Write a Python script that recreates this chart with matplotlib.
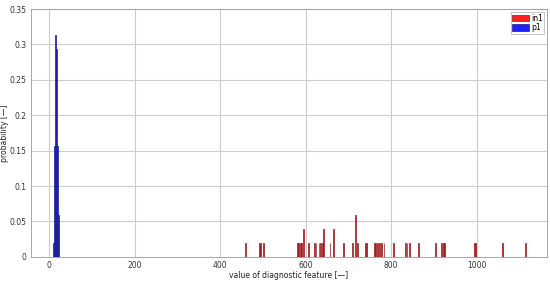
import matplotlib
matplotlib.use("Agg")
import matplotlib.pyplot as plt

# class p1 (blue) histogram bins
p1_x = [11, 13, 15, 17, 19, 21]
p1_prob = [0.0196, 0.157, 0.314, 0.294, 0.157, 0.059]

# class in1 (red) histogram bins
in1_x = [460, 492, 495, 502, 580, 583, 587, 590, 594, 606, 620, 624, 631, 634,
         639, 642, 657, 666, 689, 710, 716, 722, 740, 743, 760, 763, 767, 773,
         777, 783, 805, 834, 837, 842, 863, 904, 918, 922, 925, 995, 998, 1061,
         1114]
in1_prob = [0.0196, 0.0196, 0.0196, 0.0196, 0.0196, 0.0196, 0.0196, 0.0196, 0.039,
            0.0196, 0.0196, 0.0196, 0.0196, 0.0196, 0.0196, 0.039, 0.0196, 0.039,
            0.0196, 0.0196, 0.059, 0.0196, 0.0196, 0.0196, 0.0196, 0.0196, 0.0196,
            0.0196, 0.0196, 0.0196, 0.0196, 0.0196, 0.0196, 0.0196, 0.0196, 0.0196,
            0.0196, 0.0196, 0.0196, 0.0196, 0.0196, 0.0196, 0.0196]

xticks = [0, 200, 400, 600, 800, 1000]
yticks = [0, 0.05, 0.1, 0.15, 0.2, 0.25, 0.3, 0.35]
ytick_labels = ["0", "0.05", "0.1", "0.15", "0.2", "0.25", "0.3", "0.35"]

fig = plt.figure(figsize=(5.5, 2.82), dpi=100)
ax = fig.add_axes([0.056, 0.089, 0.939, 0.879])

ax.bar(in1_x, in1_prob, width=2, color="#ff2020", edgecolor="#8b1a1a",
       linewidth=0.5, label="in1", zorder=3)
ax.bar(p1_x, p1_prob, width=2, color="#2020ff", edgecolor="#1a1a8b",
       linewidth=0.5, label="p1", zorder=3)

ax.set_xlim(-43, 1165)
ax.set_ylim(0, 0.35)
ax.set_xticks(xticks)
ax.set_yticks(yticks)
ax.set_yticklabels(ytick_labels)
ax.grid(True, color="#cccccc", linewidth=0.8, zorder=0)
ax.tick_params(labelsize=5.5, colors="#333333", length=0, pad=3)
for s in ax.spines.values():
    s.set_color("#999999")
    s.set_linewidth(0.6)

ax.set_xlabel("value of diagnostic feature [—]", fontsize=5.5, color="#222222", labelpad=1)
ax.set_ylabel("probability [—]", fontsize=5.5, color="#222222")
ax.yaxis.set_label_coords(-0.042, 0.5)

leg = ax.legend(loc="upper right", fontsize=5.5, handlelength=2.2, handleheight=1.0,
                handletextpad=0.2, borderpad=0.2, labelspacing=0.1, fancybox=False,
                borderaxespad=0.4)
leg.get_frame().set_edgecolor("#999999")
leg.get_frame().set_linewidth(0.5)

fig.savefig("out.png", dpi=100)
